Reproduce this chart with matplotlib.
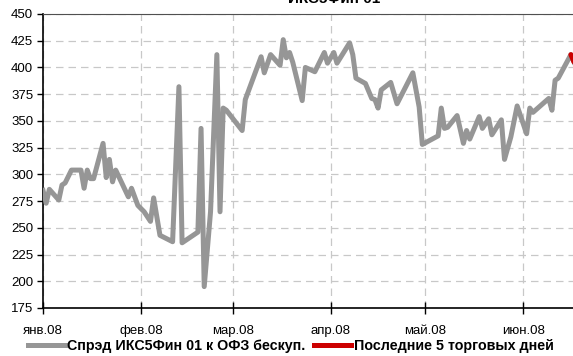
import matplotlib
matplotlib.use("Agg")
import matplotlib.pyplot as plt
from matplotlib.lines import Line2D
import pandas as pd

# spread, bp
dates = [
    "2008-01-01", "2008-01-02", "2008-01-03", "2008-01-06", "2008-01-07", "2008-01-08",
    "2008-01-10", "2008-01-13", "2008-01-14", "2008-01-15", "2008-01-16", "2008-01-17",
    "2008-01-20", "2008-01-21", "2008-01-22", "2008-01-23", "2008-01-24", "2008-01-28",
    "2008-01-29", "2008-01-31", "2008-02-02", "2008-02-04", "2008-02-05", "2008-02-07",
    "2008-02-11", "2008-02-13", "2008-02-14", "2008-02-19", "2008-02-20", "2008-02-21",
    "2008-02-23", "2008-02-25", "2008-02-26", "2008-02-27", "2008-02-28", "2008-03-04",
    "2008-03-05", "2008-03-10", "2008-03-11", "2008-03-13", "2008-03-16", "2008-03-17",
    "2008-03-18", "2008-03-19", "2008-03-20", "2008-03-23", "2008-03-24", "2008-03-27",
    "2008-03-30", "2008-03-31", "2008-04-02", "2008-04-03", "2008-04-07", "2008-04-08",
    "2008-04-09", "2008-04-12", "2008-04-14", "2008-04-15", "2008-04-16", "2008-04-17",
    "2008-04-20", "2008-04-22", "2008-04-27", "2008-04-29", "2008-04-30", "2008-05-05",
    "2008-05-06", "2008-05-07", "2008-05-08", "2008-05-11", "2008-05-13", "2008-05-14",
    "2008-05-15", "2008-05-18", "2008-05-19", "2008-05-21", "2008-05-22", "2008-05-25",
    "2008-05-26", "2008-05-28", "2008-05-30", "2008-06-02", "2008-06-03", "2008-06-04",
    "2008-06-09", "2008-06-10", "2008-06-11", "2008-06-12", "2008-06-16", "2008-06-17",
    "2008-06-18", "2008-06-19", "2008-06-20",
]
spread = [
    285, 273, 286, 276, 290, 292,
    304, 304, 287, 304, 296, 296,
    329, 297, 314, 293, 304, 279,
    287, 271, 265, 256, 278, 243,
    237, 382, 236, 246, 343, 195,
    265, 412, 265, 362, 360, 341,
    370, 410, 395, 412, 402, 426,
    409, 414, 405, 369, 400, 396,
    414, 404, 414, 404, 423, 412,
    390, 385, 371, 370, 362, 379,
    386, 366, 395, 363, 328, 336,
    362, 343, 344, 355, 329, 341,
    333, 354, 343, 352, 337, 351,
    314, 335, 364, 338, 362, 358,
    371, 360, 388, 390, 412, 405,
    403, 401, 400,
]
n_last = 5

month_ticks = ["2008-01-01", "2008-02-01", "2008-03-01", "2008-04-01", "2008-05-01", "2008-06-01"]
month_labels = ["янв.08", "фев.08", "мар.08", "апр.08", "май.08", "июн.08"]

label_main = "Спрэд ИКС5Фин 01 к ОФЗ бескуп."
label_last = "Последние 5 торговых дней"
title = "ИКС5Фин 01"

df = pd.DataFrame({"date": pd.to_datetime(dates), "spread": spread})
last = df.tail(n_last)

plt.rcParams["font.family"] = ["Liberation Sans", "DejaVu Sans"]

fig = plt.figure(figsize=(5.73, 3.56), dpi=100)
ax = fig.add_axes([43 / 573, 1 - 308 / 356, 1 - 43 / 573, (308 - 14) / 356])

gray = "#969696"
red = "#cc0000"
ax.plot(df["date"], df["spread"], color=gray, lw=3.6, solid_joinstyle="round", zorder=3)
ax.plot(last["date"], last["spread"], color=red, lw=3.6, solid_capstyle="round", zorder=4)

ax.set_ylim(175, 450)
ax.set_yticks(range(175, 451, 25))
ax.set_xlim(pd.Timestamp("2008-01-01"), pd.Timestamp("2008-06-16 16:00"))
ax.set_xticks(pd.to_datetime(month_ticks))
ax.set_xticklabels(month_labels)

ax.grid(True, color="#c8c8c8", lw=0.9, ls=(0, (6, 4)), zorder=0)
ax.spines["right"].set_visible(False)
ax.spines["top"].set_color("#505050")
ax.spines["left"].set_linewidth(1.2)
ax.spines["bottom"].set_linewidth(1.2)

ax.tick_params(axis="y", direction="out", length=4, width=1, pad=3, labelsize=9.5)
ax.tick_params(axis="x", direction="inout", length=8, width=1, pad=8, labelsize=9.5)

handles = [Line2D([], [], color=gray, lw=3.6), Line2D([], [], color=red, lw=3.6)]
fig.legend(handles, [label_main, label_last], loc="center", bbox_to_anchor=(0.507, 1 - 346 / 356),
           ncol=2, frameon=False, prop={"weight": "bold", "size": 10.3},
           handlelength=2.6, handletextpad=0.15, columnspacing=0.63, borderpad=0, borderaxespad=0)

# title sits mostly above the top edge, as in the source image
fig.text(334 / 573, 1 - 3 / 356, title, ha="center", va="baseline", fontsize=11, fontweight="bold")

fig.savefig("out.png", dpi=100)
